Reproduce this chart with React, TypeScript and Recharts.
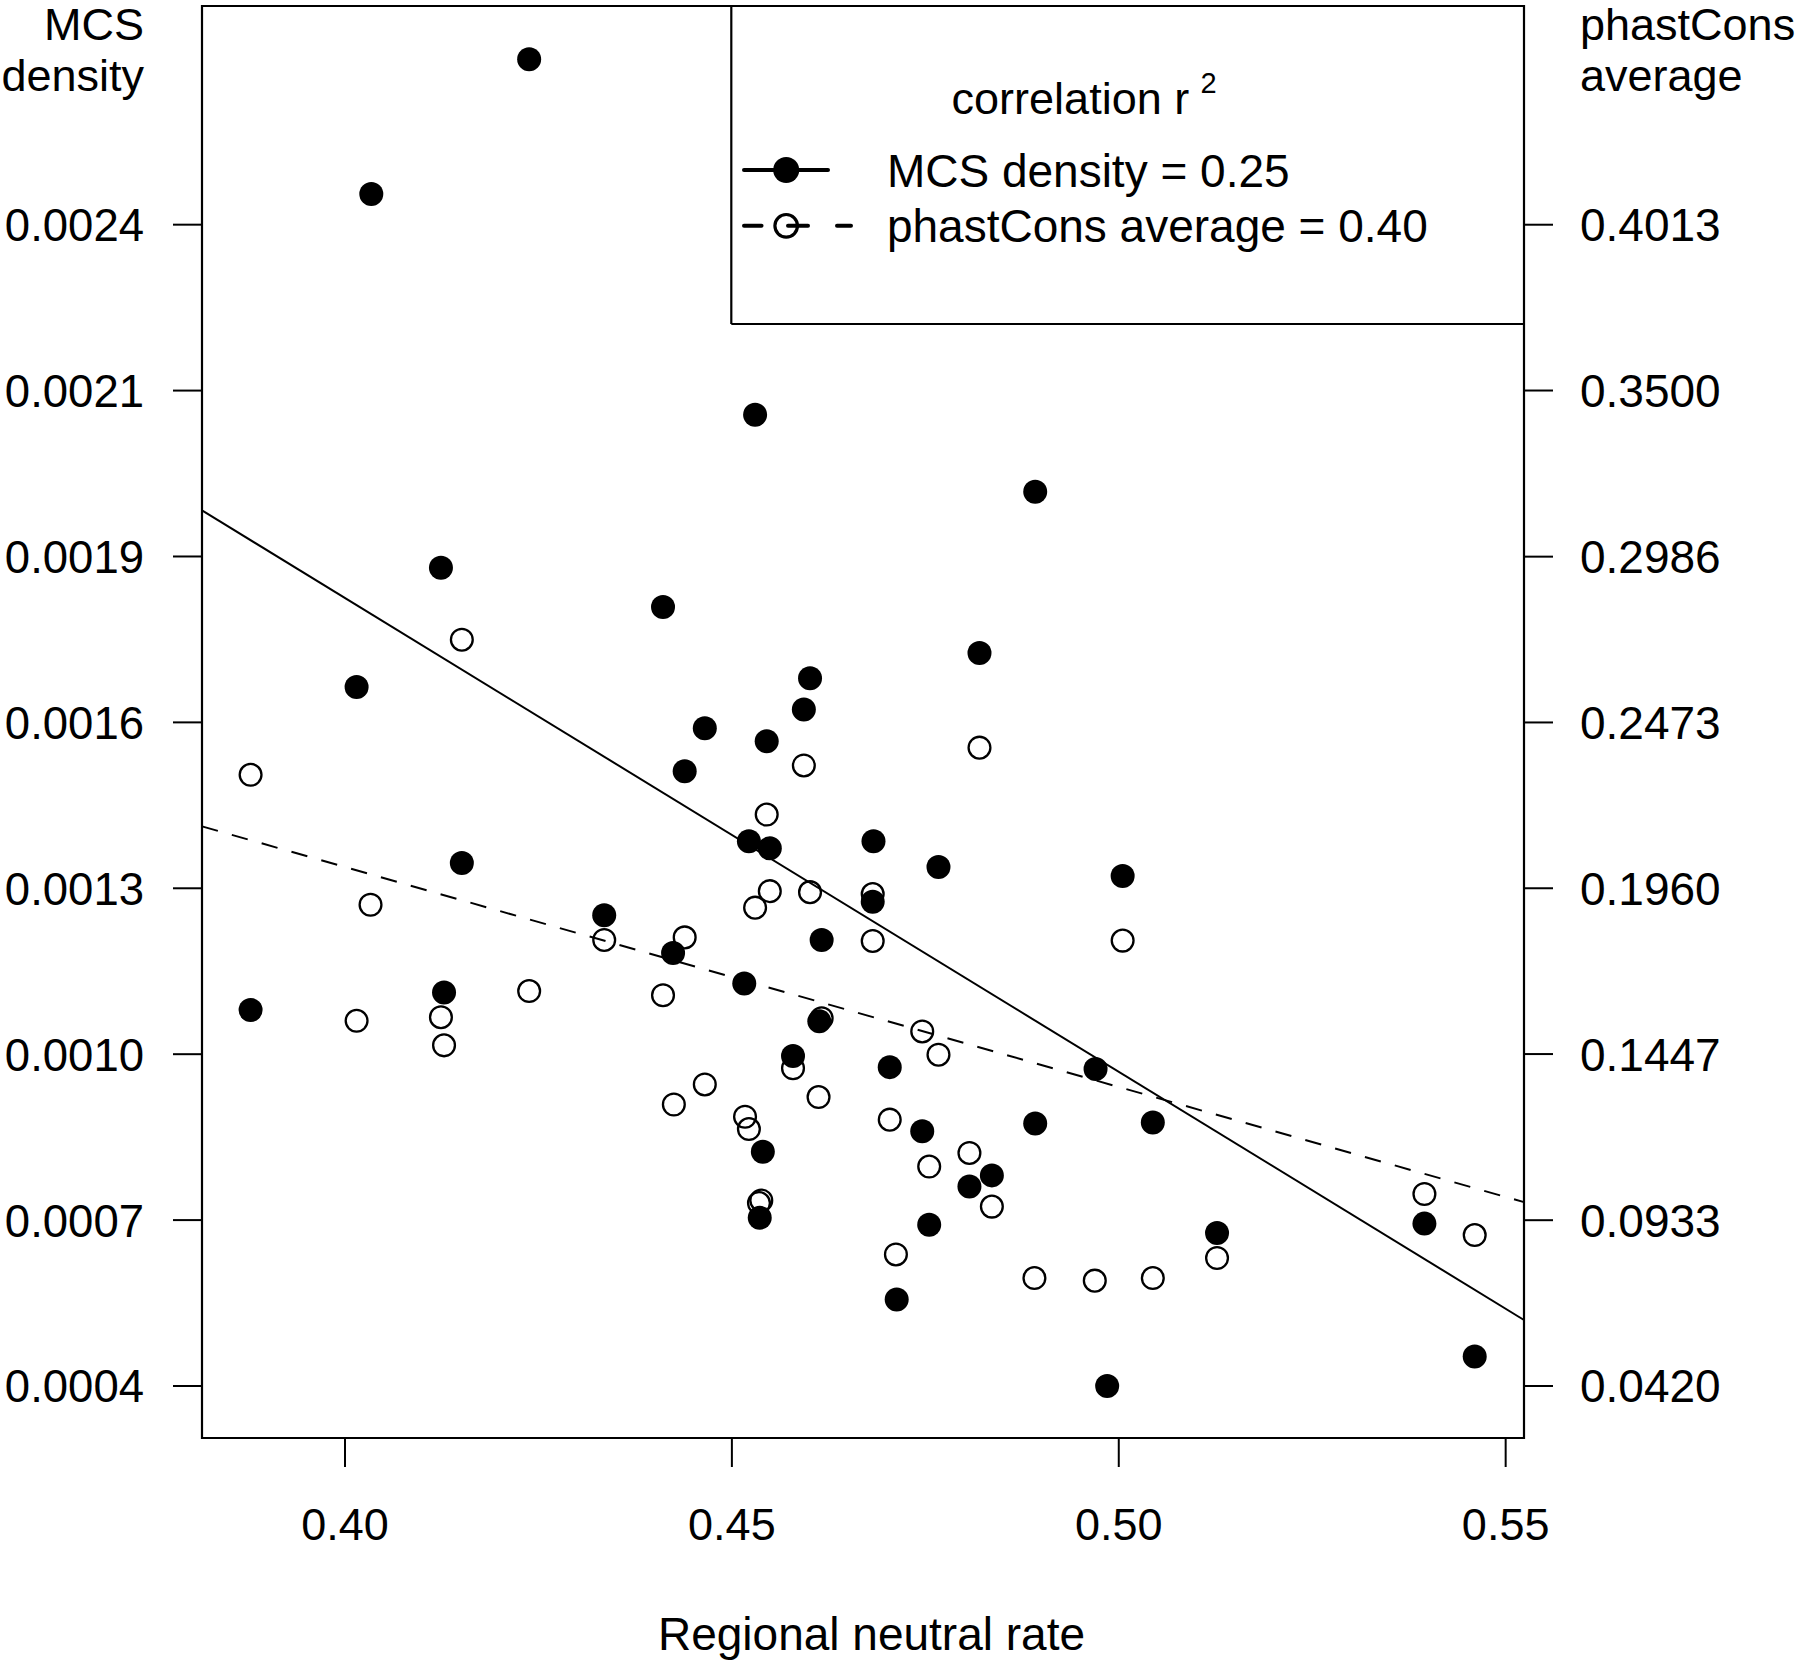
import React from 'react';
import { ScatterChart, Scatter, XAxis, YAxis, ReferenceLine, ReferenceArea, Legend } from 'recharts';

// ---------- data ----------
// Regional neutral rate of each region (filled points, MCS density)
const mcsRate = [
  0.3878, 0.4015, 0.4034, 0.4124, 0.4128, 0.4151, 0.4238, 0.4335, 0.4411, 0.4424,
  0.4439, 0.4465, 0.4516, 0.4522, 0.4530, 0.4536, 0.4540, 0.4545, 0.4549, 0.4579,
  0.4593, 0.4601, 0.4613, 0.4616, 0.4683, 0.4682, 0.4704, 0.4713, 0.4746, 0.4755,
  0.4767, 0.4807, 0.4820, 0.4836, 0.4892, 0.4892, 0.4970, 0.4985, 0.5005, 0.5044,
  0.5127, 0.5395, 0.5460,
];
const mcsDensity = [
  0.001079, 0.001628, 0.002466, 0.001831, 0.001109, 0.001329, 0.002695, 0.001240, 0.001764, 0.001176,
  0.001485, 0.001558, 0.001124, 0.001366, 0.002091, 0.000726, 0.000838, 0.001536, 0.001354, 0.001001,
  0.001590, 0.001643, 0.001060, 0.001198, 0.001366, 0.001263, 0.000982, 0.000587, 0.000873, 0.000714,
  0.001322, 0.000779, 0.001686, 0.000798, 0.001960, 0.000886, 0.000979, 0.000440, 0.001307, 0.000888,
  0.000700, 0.000716, 0.000490,
];
// Regional neutral rate of each region (open points, phastCons average)
const phastRate = [
  0.3878, 0.4015, 0.4033, 0.4124, 0.4128, 0.4151, 0.4238, 0.4335, 0.4411, 0.4425,
  0.4439, 0.4465, 0.4517, 0.4522, 0.4530, 0.4535, 0.4538, 0.4545, 0.4549, 0.4579,
  0.4593, 0.4601, 0.4616, 0.4612, 0.4682, 0.4682, 0.4704, 0.4712, 0.4746, 0.4755,
  0.4767, 0.4807, 0.4820, 0.4836, 0.4891, 0.4969, 0.5005, 0.5044, 0.5127, 0.5395,
  0.5460,
];
const phastAverage = [
  0.2311, 0.1550, 0.1909, 0.1561, 0.1474, 0.2729, 0.1642, 0.1800, 0.1629, 0.1291,
  0.1808, 0.1353, 0.1253, 0.1215, 0.1900, 0.0986, 0.0994, 0.2188, 0.1951, 0.1403,
  0.2340, 0.1948, 0.1558, 0.1314, 0.1942, 0.1797, 0.1244, 0.0827, 0.1517, 0.1099,
  0.1445, 0.1141, 0.2395, 0.0975, 0.0754, 0.0746, 0.1798, 0.0754, 0.0816, 0.1014,
  0.0887,
];

// regression fits (value = intercept + slope * rate)
const mcsFit = { intercept: 0.005001, slope: -0.008054 };
const phastFit = { intercept: 0.47477, slope: -0.6805 };
const legendLabels = ['MCS density = 0.25', 'phastCons average = 0.40'];

// axes
const xDomain = [0.38152, 0.55237];
const xTicks = [0.4, 0.45, 0.5, 0.55];
const xTickLabels = ['0.40', '0.45', '0.50', '0.55'];
const leftDomain = [0.0003516, 0.0027857];
const leftTicks = [0.00044, 0.000722, 0.001004, 0.001286, 0.001568, 0.00185, 0.002132, 0.002414];
const leftTickLabels = ['0.0004', '0.0007', '0.0010', '0.0013', '0.0016', '0.0019', '0.0021', '0.0024'];
const rightDomain = [0.02591, 0.46897];
const rightTicks = [0.042, 0.0933, 0.1447, 0.196, 0.2473, 0.2986, 0.35, 0.4013];
const rightTickLabels = ['0.0420', '0.0933', '0.1447', '0.1960', '0.2473', '0.2986', '0.3500', '0.4013'];

// ---------- helpers ----------
const FONT = '"Liberation Sans", Arial, Helvetica, sans-serif';

const nearestIndex = (arr: number[], v: number) => {
  let best = 0;
  for (let i = 1; i < arr.length; i++) if (Math.abs(arr[i] - v) < Math.abs(arr[best] - v)) best = i;
  return best;
};

const mcsData = mcsRate.map((x, i) => ({ x, y: mcsDensity[i] }));
const phastData = phastRate.map((x, i) => ({ x, y: phastAverage[i] }));

const LeftTick = (props: any) => {
  const { y, payload } = props;
  const i = nearestIndex(leftTicks, payload.value);
  return (
    <text x={144} y={y + 16.5} textAnchor="end" fontSize={45.5} fontFamily={FONT} fill="#000">
      {leftTickLabels[i]}
    </text>
  );
};
const RightTick = (props: any) => {
  const { y, payload } = props;
  const i = nearestIndex(rightTicks, payload.value);
  return (
    <text x={1580} y={y + 16.5} textAnchor="start" fontSize={46} fontFamily={FONT} fill="#000">
      {rightTickLabels[i]}
    </text>
  );
};
const BottomTick = (props: any) => {
  const { x, payload } = props;
  const i = nearestIndex(xTicks, payload.value);
  return (
    <text x={x} y={1539.5} textAnchor="middle" fontSize={45} fontFamily={FONT} fill="#000">
      {xTickLabels[i]}
    </text>
  );
};

const FilledDot = (p: any) => <circle cx={p.cx} cy={p.cy} r={12} fill="#000" />;
const OpenDot = (p: any) => (
  <circle cx={p.cx} cy={p.cy} r={10.9} fill="none" stroke="#000" strokeWidth={2.3} />
);

const LeftTitle = () => (
  <g fontFamily={FONT} fontSize={45} fill="#000">
    <text x={144} y={40} textAnchor="end">MCS</text>
    <text x={144} y={91} textAnchor="end">density</text>
  </g>
);
const RightTitle = () => (
  <g fontFamily={FONT} fontSize={45} fill="#000">
    <text x={1580} y={40} textAnchor="start">phastCons</text>
    <text x={1580} y={91} textAnchor="start">average</text>
  </g>
);
const BottomTitle = () => (
  <text x={871.5} y={1650} textAnchor="middle" fontFamily={FONT} fontSize={46} fill="#000">
    Regional neutral rate
  </text>
);

// legend drawn in an svg whose origin is at page (730, 0)
const LX = 730;
const LegendBox = () => (
  <svg width={800} height={330} style={{ display: 'block', overflow: 'visible' }}>
    <line x1={731.3 - LX} y1={5} x2={731.3 - LX} y2={324} stroke="#000" strokeWidth={2.2} />
    <line x1={731.3 - LX} y1={324} x2={1524 - LX} y2={324} stroke="#000" strokeWidth={2.2} />
    <text x={951.6 - LX} y={113.8} fontFamily={FONT} fontSize={45} fill="#000">correlation r</text>
    <text x={1200.5 - LX} y={93} fontFamily={FONT} fontSize={29} fill="#000">2</text>
    <line x1={744 - LX} y1={170} x2={828 - LX} y2={170} stroke="#000" strokeWidth={4} strokeLinecap="round" />
    <circle cx={786.2 - LX} cy={170} r={13} fill="#000" />
    <text x={886.9 - LX} y={187.4} fontFamily={FONT} fontSize={46} fill="#000">{legendLabels[0]}</text>
    <line x1={744 - LX} y1={225.8} x2={761.5 - LX} y2={225.8} stroke="#000" strokeWidth={4} strokeLinecap="round" />
    <line x1={788 - LX} y1={225.8} x2={808 - LX} y2={225.8} stroke="#000" strokeWidth={4} strokeLinecap="round" />
    <line x1={837 - LX} y1={225.8} x2={851 - LX} y2={225.8} stroke="#000" strokeWidth={4} strokeLinecap="round" />
    <circle cx={786.2 - LX} cy={225.8} r={11.3} fill="none" stroke="#000" strokeWidth={3.2} />
    <text x={886.9 - LX} y={241.5} fontFamily={FONT} fontSize={46} fill="#000">{legendLabels[1]}</text>
  </svg>
);

export default function App() {
  const [x0, x1] = xDomain;
  return (
    <div style={{ position: 'absolute', left: 0, top: 0, width: 1800, height: 1661, background: '#fff' }}>
      <ScatterChart width={1800} height={1661} margin={{ top: 6, right: 0, bottom: 0, left: 0 }}>
        <XAxis
          type="number"
          dataKey="x"
          domain={xDomain}
          ticks={xTicks}
          allowDataOverflow
          height={223}
          tickSize={29}
          tickLine={{ stroke: '#000', strokeWidth: 2 }}
          axisLine={false}
          tick={<BottomTick />}
          interval={0}
          label={{ value: 'Regional neutral rate', content: BottomTitle }}
        />
        <YAxis
          yAxisId="left"
          type="number"
          dataKey="y"
          domain={leftDomain}
          ticks={leftTicks}
          allowDataOverflow
          width={202}
          tickSize={29}
          tickLine={{ stroke: '#000', strokeWidth: 2 }}
          axisLine={false}
          tick={<LeftTick />}
          interval={0}
          label={{ value: 'MCS density', content: LeftTitle }}
        />
        <YAxis
          yAxisId="right"
          orientation="right"
          type="number"
          dataKey="y"
          domain={rightDomain}
          ticks={rightTicks}
          allowDataOverflow
          width={276}
          tickSize={29}
          tickLine={{ stroke: '#000', strokeWidth: 2 }}
          axisLine={false}
          tick={<RightTick />}
          interval={0}
          label={{ value: 'phastCons average', content: RightTitle }}
        />
        <ReferenceArea
          yAxisId="left"
          x1={x0}
          x2={x1}
          y1={leftDomain[0]}
          y2={leftDomain[1]}
          fill="none"
          fillOpacity={0}
          stroke="#000"
          strokeWidth={2.2}
          ifOverflow="visible"
        />
        <ReferenceLine
          yAxisId="left"
          segment={[
            { x: x0, y: mcsFit.intercept + mcsFit.slope * x0 },
            { x: x1, y: mcsFit.intercept + mcsFit.slope * x1 },
          ]}
          stroke="#000"
          strokeWidth={2}
          ifOverflow="visible"
        />
        <ReferenceLine
          yAxisId="right"
          segment={[
            { x: x0, y: phastFit.intercept + phastFit.slope * x0 },
            { x: x1, y: phastFit.intercept + phastFit.slope * x1 },
          ]}
          stroke="#000"
          strokeWidth={2}
          strokeDasharray="16.5 14.5"
          ifOverflow="visible"
        />
        <Scatter
          name="phastCons average"
          yAxisId="right"
          data={phastData}
          shape={OpenDot}
          isAnimationActive={false}
        />
        <Scatter
          name="MCS density"
          yAxisId="left"
          data={mcsData}
          shape={FilledDot}
          isAnimationActive={false}
        />
        <Legend
          layout="horizontal"
          verticalAlign="middle"
          align="center"
          content={LegendBox}
          wrapperStyle={{ position: 'absolute', left: LX, top: 0, width: 800, height: 330, margin: 0, padding: 0, lineHeight: 0 }}
        />
      </ScatterChart>
    </div>
  );
}
